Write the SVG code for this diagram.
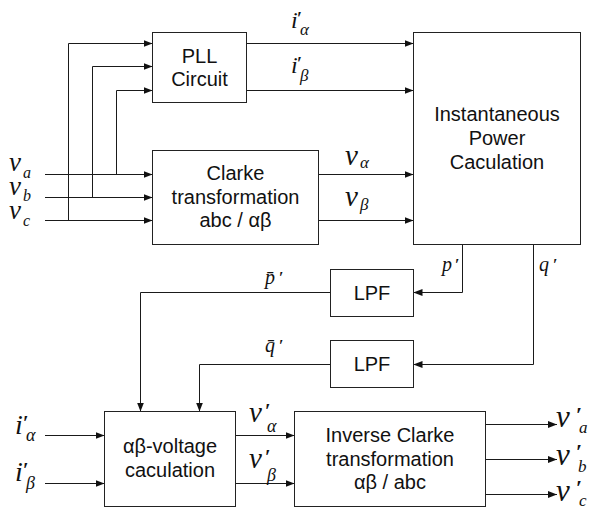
<svg xmlns="http://www.w3.org/2000/svg" width="589" height="510" viewBox="0 0 589 510">
<style>
.box{fill:#fff;stroke:#222;stroke-width:1}
.lbl{font-family:"Liberation Sans",Arial,sans-serif;font-size:20px;fill:#111;text-anchor:middle}
.m{font-family:"Liberation Serif","Times New Roman",serif;font-style:italic;fill:#111}
.pr{font-style:normal;font-weight:bold}
.c{fill:none;stroke:#1a1a1a;stroke-width:1}
</style>
<defs>
<marker id="ah" markerUnits="userSpaceOnUse" markerWidth="9" markerHeight="7" refX="9" refY="3.5" orient="auto">
<path d="M0,0 L9,3.5 L0,7 z" fill="#111"/>
</marker>
</defs>
<rect width="589" height="510" fill="#fff"/>
<g id="connectors">
<path class="c" d="M45,174.5 H152.5" marker-end="url(#ah)"/>
<path class="c" d="M45,197.5 H152.5" marker-end="url(#ah)"/>
<path class="c" d="M45,220.5 H152.5" marker-end="url(#ah)"/>
<path class="c" d="M116.5,174.5 V90.5 H152.5" marker-end="url(#ah)"/>
<path class="c" d="M92.5,197.5 V66.5 H152.5" marker-end="url(#ah)"/>
<path class="c" d="M68.5,220.5 V43.5 H152.5" marker-end="url(#ah)"/>
<path class="c" d="M246.5,43.5 H413.5" marker-end="url(#ah)"/>
<path class="c" d="M246.5,90.5 H413.5" marker-end="url(#ah)"/>
<path class="c" d="M318.5,174.5 H413.5" marker-end="url(#ah)"/>
<path class="c" d="M318.5,220.5 H413.5" marker-end="url(#ah)"/>
<path class="c" d="M462.5,244.5 V292.5 H413.5" marker-end="url(#ah)"/>
<path class="c" d="M533.5,244.5 V364.5 H413.5" marker-end="url(#ah)"/>
<path class="c" d="M330.5,292.5 H140.5 V411.5" marker-end="url(#ah)"/>
<path class="c" d="M330.5,364.5 H199.5 V411.5" marker-end="url(#ah)"/>
<path class="c" d="M45,435.5 H104.5" marker-end="url(#ah)"/>
<path class="c" d="M45,483.5 H104.5" marker-end="url(#ah)"/>
<path class="c" d="M235.5,435.5 H294.5" marker-end="url(#ah)"/>
<path class="c" d="M235.5,483.5 H294.5" marker-end="url(#ah)"/>
<path class="c" d="M485.5,424.5 H557" marker-end="url(#ah)"/>
<path class="c" d="M485.5,459.5 H557" marker-end="url(#ah)"/>
<path class="c" d="M485.5,494.5 H557" marker-end="url(#ah)"/>
</g>
<g id="pll">
<rect class="box" x="152.5" y="32.5" width="94" height="70"/>
<text class="lbl" x="199.5" y="63">PLL</text>
<text class="lbl" x="199.5" y="86">Circuit</text>
</g>
<g id="clarke">
<rect class="box" x="152.5" y="150.5" width="166" height="94"/>
<text class="lbl" x="235.5" y="180">Clarke</text>
<text class="lbl" x="235.5" y="204">transformation</text>
<text class="lbl" x="235.5" y="227">abc / αβ</text>
</g>
<g id="power">
<rect class="box" x="413.5" y="32.5" width="167" height="212"/>
<text class="lbl" x="497" y="121">Instantaneous</text>
<text class="lbl" x="497" y="145">Power</text>
<text class="lbl" x="497" y="169">Caculation</text>
</g>
<g id="lpf1">
<rect class="box" x="330.5" y="269.5" width="83" height="47"/>
<text class="lbl" x="372" y="300">LPF</text>
</g>
<g id="lpf2">
<rect class="box" x="330.5" y="340.5" width="83" height="47"/>
<text class="lbl" x="372" y="371">LPF</text>
</g>
<g id="abvoltage">
<rect class="box" x="104.5" y="411.5" width="131" height="95"/>
<text class="lbl" x="170" y="453">αβ-voltage</text>
<text class="lbl" x="170" y="477">caculation</text>
</g>
<g id="invclarke">
<rect class="box" x="294.5" y="411.5" width="191" height="95"/>
<text class="lbl" x="390" y="442">Inverse Clarke</text>
<text class="lbl" x="390" y="466">transformation</text>
<text class="lbl" x="390" y="489">αβ / abc</text>
</g>
<g id="labels">
<text class="m" font-size="24"><tspan x="291" y="28">i</tspan><tspan class="pr" x="297" y="25" font-size="18">′</tspan><tspan x="300" y="35" font-size="17">α</tspan></text>
<text class="m" font-size="24"><tspan x="291" y="73">i</tspan><tspan class="pr" x="297" y="70" font-size="18">′</tspan><tspan x="300" y="81" font-size="17">β</tspan></text>
<text class="m" font-size="29"><tspan x="345" y="165">v</tspan><tspan x="360" y="168" font-size="17">α</tspan></text>
<text class="m" font-size="29"><tspan x="345" y="206">v</tspan><tspan x="360" y="210" font-size="17">β</tspan></text>
<text class="m" font-size="27"><tspan x="9" y="171">v</tspan><tspan x="23" y="178" font-size="16">a</tspan></text>
<text class="m" font-size="27"><tspan x="9" y="195">v</tspan><tspan x="23" y="201" font-size="16">b</tspan></text>
<text class="m" font-size="27"><tspan x="9" y="219">v</tspan><tspan x="23" y="226" font-size="16">c</tspan></text>
<text class="m" font-size="20"><tspan x="442" y="271">p</tspan><tspan class="pr" x="455" y="270" font-size="16">′</tspan></text>
<text class="m" font-size="20"><tspan x="539" y="271">q</tspan><tspan class="pr" x="553" y="270" font-size="16">′</tspan></text>
<text class="m" font-size="20"><tspan x="265" y="284">p̄</tspan><tspan class="pr" x="279" y="283" font-size="16">′</tspan></text>
<text class="m" font-size="20"><tspan x="265" y="352">q̄</tspan><tspan class="pr" x="279" y="351" font-size="16">′</tspan></text>
<text class="m" font-size="28"><tspan x="15" y="434">i</tspan><tspan class="pr" x="23" y="430" font-size="20">′</tspan><tspan x="26" y="441" font-size="18">α</tspan></text>
<text class="m" font-size="28"><tspan x="15" y="481">i</tspan><tspan class="pr" x="23" y="477" font-size="20">′</tspan><tspan x="26" y="489" font-size="18">β</tspan></text>
<text class="m" font-size="29"><tspan x="249" y="422">v</tspan><tspan class="pr" x="265" y="418" font-size="20">′</tspan><tspan x="267" y="432" font-size="18">α</tspan></text>
<text class="m" font-size="29"><tspan x="249" y="468">v</tspan><tspan class="pr" x="265" y="464" font-size="20">′</tspan><tspan x="267" y="481" font-size="18">β</tspan></text>
<text class="m" font-size="31"><tspan x="556" y="427">v</tspan><tspan class="pr" x="576" y="422" font-size="22">′</tspan><tspan x="579" y="433" font-size="17">a</tspan></text>
<text class="m" font-size="31"><tspan x="556" y="465">v</tspan><tspan class="pr" x="576" y="459" font-size="22">′</tspan><tspan x="578" y="472" font-size="17">b</tspan></text>
<text class="m" font-size="31"><tspan x="556" y="501">v</tspan><tspan class="pr" x="576" y="495" font-size="22">′</tspan><tspan x="579" y="506" font-size="17">c</tspan></text>
</g>
</svg>
